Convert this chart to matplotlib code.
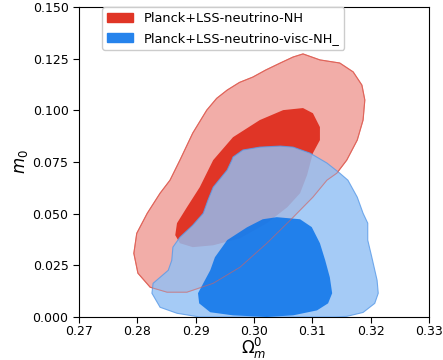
import matplotlib
matplotlib.use("Agg")
import matplotlib.pyplot as plt
from matplotlib.patches import Patch

# contour outlines (Omega_m^0, m_0)
red_outer_x = [0.3084, 0.3113, 0.3147, 0.3170, 0.3185, 0.3190, 0.3187, 0.3177, 0.3159, 0.3142,
               0.3125, 0.3101, 0.3062, 0.3022, 0.2976, 0.2930, 0.2885, 0.2851, 0.2822, 0.2801,
               0.2794, 0.2799, 0.2817, 0.2839, 0.2856, 0.2873, 0.2895, 0.2919, 0.2936, 0.2954,
               0.2975, 0.2998, 0.3020, 0.3045, 0.3067]
red_outer_y = [0.1273, 0.1244, 0.1229, 0.1186, 0.1122, 0.1050, 0.0953, 0.0856, 0.0759, 0.0696,
               0.0662, 0.0580, 0.0468, 0.0357, 0.0241, 0.0163, 0.0120, 0.0120, 0.0144, 0.0212,
               0.0308, 0.0405, 0.0502, 0.0599, 0.0662, 0.0759, 0.0890, 0.1001, 0.1058, 0.1098,
               0.1135, 0.1161, 0.1195, 0.1229, 0.1258]

red_inner_x = [0.3084, 0.3101, 0.3113, 0.3113, 0.3101, 0.3091, 0.3079, 0.3057, 0.3022, 0.2976,
               0.2930, 0.2895, 0.2873, 0.2865, 0.2868, 0.2885, 0.2907, 0.2930, 0.2964, 0.3010,
               0.3050]
red_inner_y = [0.1011, 0.0986, 0.0919, 0.0856, 0.0793, 0.0687, 0.0599, 0.0531, 0.0454, 0.0381,
               0.0347, 0.0338, 0.0357, 0.0396, 0.0454, 0.0531, 0.0628, 0.0759, 0.0870, 0.0953,
               0.1001]

blue_outer_x = [0.2964, 0.2981, 0.3010, 0.3045, 0.3067, 0.3096, 0.3125, 0.3147, 0.3161, 0.3177,
                0.3187, 0.3195, 0.3195, 0.3202, 0.3211, 0.3213, 0.3207, 0.3187, 0.3159, 0.3135,
                0.2907, 0.2868, 0.2839, 0.2825, 0.2827, 0.2839, 0.2853, 0.2859, 0.2861, 0.2873,
                0.2895, 0.2913, 0.2921, 0.2930, 0.2954, 0.2962]
blue_outer_y = [0.0774, 0.0808, 0.0822, 0.0827, 0.0822, 0.0793, 0.0745, 0.0696, 0.0662, 0.0580,
                0.0502, 0.0454, 0.0372, 0.0289, 0.0178, 0.0115, 0.0066, 0.0022, 0.0003, 0.0,
                0.0, 0.0018, 0.0047, 0.0115, 0.0163, 0.0192, 0.0226, 0.0274, 0.0338, 0.0386,
                0.0444, 0.0502, 0.0565, 0.0628, 0.0711, 0.0759]

blue_inner_x = [0.3039, 0.3079, 0.3099, 0.3113, 0.3122, 0.3130, 0.3134, 0.3127, 0.3108, 0.3067,
                0.3022, 0.2964, 0.2925, 0.2906, 0.2904, 0.2913, 0.2925, 0.2933, 0.2954, 0.2988,
                0.3015]
blue_inner_y = [0.0483, 0.0473, 0.0435, 0.0357, 0.0275, 0.0192, 0.0115, 0.0066, 0.0032, 0.0008,
                0.0, 0.0008, 0.0023, 0.0066, 0.0115, 0.0163, 0.0226, 0.0289, 0.0372, 0.0434,
                0.0473]

labels = ["Planck+LSS-neutrino-NH", "Planck+LSS-neutrino-visc-NH_"]

fig = plt.figure(figsize=(4.43, 3.6), dpi=100)
ax = fig.add_axes([79 / 443, 1 - 317 / 360, 350 / 443, 310 / 360])

ax.fill(red_outer_x, red_outer_y, color="#F2ADA8", ec="#E0645A", lw=0.8, zorder=1)
ax.fill(red_inner_x, red_inner_y, color="#E03526", lw=0, zorder=2)
ax.fill(blue_outer_x, blue_outer_y, color="#92C0F4", ec="#5A9BE8", lw=0.8, alpha=0.82, zorder=3)
ax.fill(blue_inner_x, blue_inner_y, color="#0A73EA", lw=0, alpha=0.85, zorder=4)
# red outer edge shows faintly through the blue regions
ax.fill(red_outer_x, red_outer_y, fc="none", ec="#E0645A", lw=0.7, alpha=0.6, zorder=5)

ax.set_xlim(0.27, 0.33)
ax.set_ylim(0.0, 0.15)
ax.set_xticks([0.27, 0.28, 0.29, 0.30, 0.31, 0.32, 0.33])
ax.set_yticks([0.0, 0.025, 0.05, 0.075, 0.1, 0.125, 0.15])
ax.set_xticklabels(["0.27", "0.28", "0.29", "0.30", "0.31", "0.32", "0.33"])
ax.set_yticklabels(["0.000", "0.025", "0.050", "0.075", "0.100", "0.125", "0.150"])
ax.tick_params(labelsize=9, length=4)
ax.tick_params(axis="x", pad=1.5)
ax.set_xlabel(r"$\Omega_m^0$", fontsize=12, labelpad=-1)
ax.set_ylabel(r"$m_0$", fontsize=12, labelpad=2)

handles = [Patch(color="#E03526"), Patch(color="#2683EC")]
ax.legend(handles, labels, loc="upper left", bbox_to_anchor=(0.066, 1.0),
          borderaxespad=0, fontsize=9.3, handlelength=2.0, framealpha=1)

fig.savefig("out.png", dpi=100)
